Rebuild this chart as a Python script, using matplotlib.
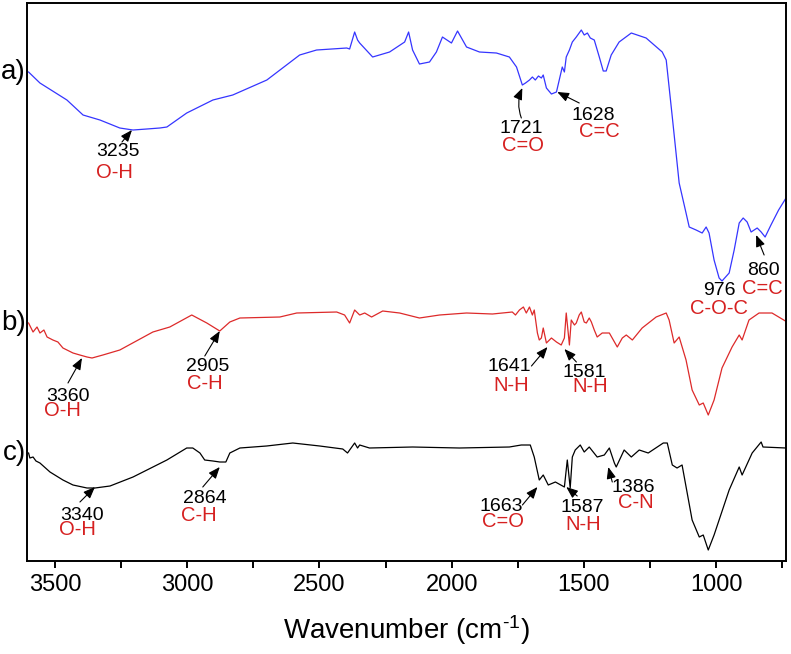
import numpy as np
import matplotlib
matplotlib.use("Agg")
import matplotlib.pyplot as plt

plt.rcParams['font.family'] = ['Liberation Sans', 'DejaVu Sans']
plt.rcParams['mathtext.default'] = 'regular'

# ----------------------
# SPECTRA (wavenumber cm-1, intensity a.u. with stacking offset)
# ----------------------
wn_a = [3600, 3557, 3455, 3394, 3330, 3255, 3205, 3153, 3104, 3077, 3002, 2903,
        2828, 2699, 2575, 2511, 2397, 2386, 2367, 2356, 2348, 2299, 2235, 2178,
        2163, 2148, 2122, 2084, 2058, 2035, 2001, 1978, 1944, 1895, 1831, 1782,
        1755, 1733, 1721, 1706, 1695, 1684, 1672, 1661, 1654, 1642, 1623, 1604,
        1582, 1574, 1567, 1555, 1544, 1529, 1510, 1499, 1487, 1476, 1461, 1442,
        1427, 1416, 1397, 1367, 1321, 1265, 1204, 1189, 1166, 1140, 1114, 1102,
        1076, 1053, 1038, 1027, 1008, 989, 978, 951, 932, 913, 898, 883, 868,
        845, 830, 815, 793, 764, 736]
int_a = [489, 478, 461, 446, 441, 433, 431, 432, 433, 434, 448, 461,
         466, 481, 506, 511, 513, 512, 529, 521, 518, 504, 509, 519,
         529, 511, 497, 499, 509, 524, 518, 530, 514, 509, 508, 504,
         494, 476, 478, 481, 484, 481, 485, 483, 486, 473, 467, 469,
         494, 489, 504, 511, 519, 524, 531, 526, 528, 523, 521, 504,
         490, 490, 506, 519, 528, 523, 509, 501, 444, 378, 348, 334,
         331, 328, 334, 328, 301, 283, 280, 288, 311, 338, 343, 339, 329,
         333, 329, 324, 336, 351, 363]

wn_b = [3600, 3583, 3568, 3557, 3542, 3530, 3508, 3489, 3470, 3432, 3406, 3379,
        3360, 3319, 3255, 3130, 3066, 2983, 2926, 2877, 2839, 2801, 2650, 2586,
        2435, 2405, 2386, 2367, 2348, 2329, 2303, 2261, 2197, 2122, 2046, 1944,
        1846, 1771, 1759, 1744, 1729, 1718, 1706, 1695, 1688, 1676, 1669, 1661,
        1654, 1642, 1623, 1604, 1586, 1574, 1567, 1555, 1548, 1536, 1529, 1518,
        1510, 1499, 1491, 1480, 1472, 1461, 1450, 1431, 1404, 1389, 1374, 1355,
        1340, 1317, 1280, 1227, 1189, 1178, 1159, 1140, 1114, 1091, 1064, 1049,
        1030, 1008, 978, 940, 913, 902, 876, 838, 789, 732]
int_b = [238, 229, 234, 228, 231, 224, 221, 219, 213, 208, 206, 204,
         203, 206, 211, 229, 234, 246, 238, 230, 239, 243, 244, 248,
         249, 246, 238, 251, 246, 248, 244, 250, 248, 243, 246, 248,
         247, 249, 246, 251, 254, 248, 254, 246, 251, 228, 221, 223,
         233, 218, 223, 219, 216, 223, 248, 216, 241, 236, 238, 246,
         249, 239, 238, 243, 239, 231, 224, 228, 228, 221, 214, 223,
         226, 221, 233, 244, 248, 241, 218, 224, 201, 171, 156, 158,
         146, 161, 193, 214, 226, 221, 241, 248, 248, 239]

wn_c = [3600, 3595, 3583, 3572, 3557, 3519, 3470, 3432, 3379, 3349, 3292, 3205,
        3077, 3002, 2979, 2952, 2934, 2903, 2877, 2854, 2839, 2801, 2700, 2601,
        2499, 2412, 2394, 2367, 2356, 2348, 2311, 2148, 1971, 1782, 1737, 1703,
        1688, 1669, 1654, 1635, 1608, 1574, 1563, 1552, 1544, 1533, 1514, 1499,
        1480, 1450, 1423, 1404, 1385, 1378, 1348, 1321, 1291, 1257, 1200, 1185,
        1166, 1148, 1129, 1091, 1064, 1049, 1030, 1008, 989, 951, 913, 902,
        864, 830, 823, 736]
int_c = [108, 103, 104, 100, 98, 89, 81, 76, 73, 73, 75, 84,
         101, 113, 113, 108, 101, 100, 99, 99, 108, 113, 115, 118,
         115, 112, 108, 118, 113, 116, 113, 114, 113, 114, 116, 116,
         104, 81, 86, 76, 79, 74, 101, 73, 104, 111, 116, 109,
         114, 104, 106, 113, 98, 94, 111, 104, 111, 108, 118, 118,
         96, 93, 96, 41, 24, 26, 11, 26, 41, 71, 94, 86,
         108, 119, 114, 113]

spectra = [("a)", wn_a, int_a, '#3535ff'),
           ("b)", wn_b, int_b, '#dd2a2a'),
           ("c)", wn_c, int_c, 'black')]

# ----------------------
# PEAK LABELS: number, group, arrow tip, offsets (pixels)
# ----------------------
peak_nums = ["3235", "1721", "1628", "976", "860",
             "3360", "2905", "1641", "1581",
             "3340", "2864", "1663", "1587", "1386"]
peak_groups = ["O-H", "C=O", "C=C", "C-O-C", "C=C",
               "O-H", "C-H", "N-H", "N-H",
               "O-H", "C-H", "C=O", "N-H", "C-N"]
tips = [(3209, 431), (1733, 473), (1601, 469), (989, 290), (849, 326),
        (3398, 203), (2877, 230), (1638, 214), (1574, 212),
        (3349, 74), (2877, 94), (1676, 74), (1567, 74), (1408, 94)]
tails = [(-10, -12), (-1, -30), (22, -11), None, (8, -20),
         (-14, -25), (-15, -25), (-16, -19), (12, -13),
         (-15, -15), (-17, -20), (-15, -18), (11, -9), (4, -15)]
num_off = [(-14, -21), (-1, -40), (36, -23), (0, -19), (7, -35),
           (-14, -38), (-12, -35), (-38, -19), (20, -23),
           (-13, -28), (-15, -31), (-36, -19), (16, -20), (25, -20)]
grp_off = [(-18, -42), (1, -57), (42, -39), (0, -37), (6, -53),
           (-20, -52), (-15, -52), (-36, -38), (26, -37),
           (-18, -42), (-21, -48), (-34, -34), (17, -37), (28, -35)]

fig = plt.figure(figsize=(7.91, 6.54), dpi=100)
ax = fig.add_axes([0.0341, 0.1422, 0.9596, 0.8532])

for lab, w, y, col in spectra:
    ax.plot(w, y, color=col, lw=0.9)
    ax.annotate(lab, xy=(0, y[0]), xycoords=('axes fraction', 'data'),
                xytext=(-1, 0), textcoords='offset pixels',
                ha='right', va='center', fontsize=20)

for i in range(len(peak_nums)):
    tip = tips[i]
    if tails[i] is not None:
        ax.annotate('', xy=tip, xytext=tails[i], textcoords='offset pixels',
                    arrowprops=dict(arrowstyle='-|>,head_length=0.5,head_width=0.2',
                                    color='black', lw=0.8, mutation_scale=14,
                                    shrinkA=0, shrinkB=0,
                                    connectionstyle='arc3,rad=-0.2' if peak_nums[i] == "1721" else 'arc3'))
    ax.annotate(peak_nums[i], xy=tip, xytext=num_off[i], textcoords='offset pixels',
                ha='center', va='center', fontsize=14, color='black')
    ax.annotate(peak_groups[i], xy=tip, xytext=grp_off[i], textcoords='offset pixels',
                ha='center', va='center', fontsize=14.5, color='#d62020')

ax.set_xlim(3606, 736)
ax.set_ylim(0, 558)
ax.set_xticks([3500, 3000, 2500, 2000, 1500, 1000])
ax.set_xticks(np.arange(3250, 700, -500), minor=True)
ax.set_yticks([])
ax.tick_params(axis='x', which='both', direction='out', length=5, width=1.4,
               labelsize=17, pad=4)
for s in ax.spines.values():
    s.set_linewidth(1.4)
ax.set_xlabel("Wavenumber (cm$^{\u20101}$)", fontsize=20, labelpad=13)

fig.savefig("out.png", dpi=100)
